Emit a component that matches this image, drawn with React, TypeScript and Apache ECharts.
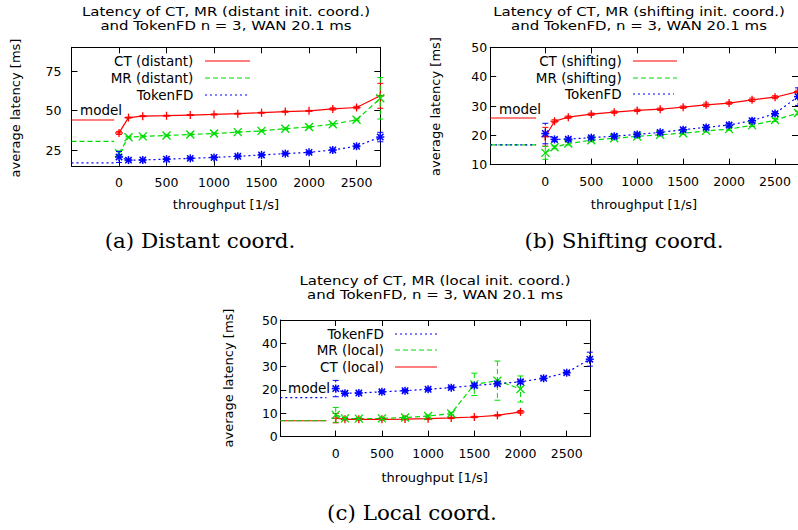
import React, { useEffect, useRef } from 'react';
import * as echarts from 'echarts';

// ---------- data ----------
const throughput = [0, 100, 250, 500, 750, 1000, 1250, 1500, 1750, 2000, 2250, 2500, 2750];
const throughputLocal = [0, 100, 250, 500, 750, 1000, 1250, 1500, 1750, 2000];

const tokenFD = [20.6, 18.6, 18.7, 19.2, 19.7, 20.3, 21.0, 21.9, 22.7, 23.5, 25.0, 27.4, 33.2];
const tokenFDErr = [3.5, 0.6, 0.5, 0.5, 0.5, 0.5, 0.5, 0.6, 0.6, 0.6, 0.6, 0.6, 3.0];

const ctDistant = [35.8, 45.5, 46.4, 46.7, 47.1, 47.5, 48.0, 48.6, 49.3, 49.8, 51.0, 51.9, 59.3];
const ctDistantErr = [1.0, 0.3, 0.3, 0.3, 0.3, 0.3, 0.3, 0.3, 0.4, 0.3, 0.7, 0.8, 7.9];
const mrDistant = [22.9, 33.1, 33.6, 34.2, 34.8, 35.4, 36.3, 37.1, 38.5, 39.6, 41.3, 44.1, 57.7];
const mrDistantErr = [1.5, 0.5, 0.4, 0.4, 0.4, 0.4, 0.4, 0.5, 0.5, 0.5, 0.5, 0.5, 13.1];

const ctShifting = [19.5, 24.8, 26.2, 27.2, 27.9, 28.5, 28.9, 29.6, 30.4, 31.0, 32.1, 33.0, 34.9];
const ctShiftingErr = [3.2, 0.5, 0.4, 0.4, 0.4, 0.4, 0.4, 0.4, 0.6, 0.4, 0.6, 0.5, 0.5];
const mrShifting = [14.0, 15.9, 17.2, 18.3, 19.0, 19.6, 20.2, 20.7, 21.5, 22.1, 23.4, 25.2, 27.6];
const mrShiftingErr = [2.2, 0.5, 0.5, 0.5, 0.4, 0.4, 0.4, 0.4, 0.4, 0.4, 0.4, 0.5, 0.6];

const ctLocal = [7.9, 7.4, 7.4, 7.4, 7.5, 7.7, 8.0, 8.4, 9.1, 10.6];
const ctLocalErr = [2.0, 0.3, 0.3, 0.3, 0.3, 0.3, 0.3, 0.3, 0.3, 0.6];
const mrLocal = [9.3, 7.8, 7.7, 7.8, 8.2, 8.8, 9.9, 22.4, 24.0, 20.4];
const mrLocalErr = [3.2, 0.4, 0.4, 0.4, 0.4, 0.4, 0.5, 4.8, 8.4, 5.6];

// model values: [CT, MR, TokenFD]
const modelDistant = [44.0, 30.5, 16.9];
const modelShifting = [25.9, 16.7, 16.7];
const modelLocal = [6.8, 6.8, 16.7];
const modelXDistant = [-500, -50];
const modelXShifting = [-600, -100];
const modelXLocal = [-600, -100];

const xTicks = [0, 500, 1000, 1500, 2000, 2500];
const yTicksA = [25, 50, 75];
const yTicksB = [10, 20, 30, 40, 50];
const yTicksC = [0, 10, 20, 30, 40, 50];

// ---------- style ----------
const RED = '#ff0000';
const GREEN = '#00dd00';
const BLUE = '#0000ff';
const SANS = 'DejaVu Sans';
const SERIF = 'DejaVu Serif';
const DASH_MR = [5, 3];
const DASH_TOK = [2, 3];

type Marker = 'plus' | 'cross' | 'star';

function lineSeries(gi: number, xs: number[], ys: number[], color: string, dash: any, width = 1.2) {
  return {
    type: 'line', xAxisIndex: gi, yAxisIndex: gi,
    data: xs.map((x, i) => [x, ys[i]]),
    showSymbol: false, symbol: 'none', silent: true, clip: false, z: 2,
    lineStyle: { color, width, type: dash },
    itemStyle: { color },
  };
}

function markerSeries(gi: number, xs: number[], ys: number[], errs: number[], color: string, dash: any, marker: Marker) {
  return {
    type: 'custom', xAxisIndex: gi, yAxisIndex: gi, clip: false, silent: true, z: 3,
    data: xs.map((x, i) => [x, ys[i], errs[i]]),
    encode: { x: 0, y: 1 },
    renderItem: (_p: any, api: any) => {
      const x = api.value(0), y = api.value(1), e = api.value(2);
      const c = api.coord([x, y]);
      const t = api.coord([x, y + e]);
      const b = api.coord([x, y - e]);
      const h = 4, cap = 3;
      const st = { stroke: color, lineWidth: 1, fill: null };
      const mst = { stroke: color, lineWidth: marker === 'star' ? 1.5 : 1.3, fill: null };
      const children: any[] = [
        { type: 'line', shape: { x1: c[0], y1: t[1], x2: c[0], y2: b[1] }, style: { ...st, lineDash: dash === 'solid' ? null : dash } },
        { type: 'line', shape: { x1: c[0] - cap, y1: t[1], x2: c[0] + cap, y2: t[1] }, style: st },
        { type: 'line', shape: { x1: c[0] - cap, y1: b[1], x2: c[0] + cap, y2: b[1] }, style: st },
      ];
      if (marker === 'plus' || marker === 'star') {
        children.push({ type: 'line', shape: { x1: c[0] - h, y1: c[1], x2: c[0] + h, y2: c[1] }, style: mst });
        children.push({ type: 'line', shape: { x1: c[0], y1: c[1] - h, x2: c[0], y2: c[1] + h }, style: mst });
      }
      if (marker === 'cross' || marker === 'star') {
        const d = marker === 'star' ? h * 0.8 : h;
        children.push({ type: 'line', shape: { x1: c[0] - d, y1: c[1] - d, x2: c[0] + d, y2: c[1] + d }, style: mst });
        children.push({ type: 'line', shape: { x1: c[0] - d, y1: c[1] + d, x2: c[0] + d, y2: c[1] - d }, style: mst });
      }
      return { type: 'group', children };
    },
  };
}

function modelSeries(gi: number, xs: number[], v: number, color: string, dash: any) {
  return lineSeries(gi, xs, [v, v], color, dash, 1.2);
}

const plainNum = (v: number) => String(v);

function xAxis(gi: number, min: number, max: number, pos: string, showLabel: boolean) {
  return {
    type: 'value', gridIndex: gi, min, max, position: pos,
    axisLine: { show: true, onZero: false, lineStyle: { color: '#000', width: 1 } },
    axisTick: { show: true, inside: true, length: 6, customValues: xTicks, lineStyle: { color: '#000' } },
    axisLabel: { show: showLabel, customValues: xTicks, formatter: plainNum, margin: 10, color: '#000', fontSize: 12.5, fontFamily: SANS },
    splitLine: { show: false },
  };
}

function yAxis(gi: number, min: number, max: number, ticks: number[], pos: string, showLabel: boolean, margin: number) {
  return {
    type: 'value', gridIndex: gi, min, max, position: pos,
    axisLine: { show: true, onZero: false, lineStyle: { color: '#000', width: 1 } },
    axisTick: { show: true, inside: true, length: 6, customValues: ticks, lineStyle: { color: '#000' } },
    axisLabel: { show: showLabel, customValues: ticks, formatter: plainNum, margin, color: '#000', fontSize: 12.5, fontFamily: SANS },
    splitLine: { show: false },
  };
}

function txt(x: number, y: number, text: string, opts: any = {}) {
  const { rotation, scaleX, ...style } = opts;
  return {
    type: 'text', x, y, rotation: rotation || 0, scaleX: scaleX || 1, silent: true,
    style: { text, fill: '#000', fontFamily: SANS, fontSize: 13.5, align: 'center', verticalAlign: 'middle', ...style },
  };
}

function legendRow(rightX: number, y: number, x1: number, x2: number, label: string, color: string, dash: any) {
  return [
    txt(rightX, y, label, { align: 'right', fontSize: 13.5 }),
    { type: 'line', silent: true, shape: { x1, y1: y, x2, y2: y }, style: { stroke: color, lineWidth: 1.2, lineDash: dash === 'solid' ? null : dash } },
  ];
}

const TITLE = { fontSize: 13, scaleX: 1.15 };

export default function App() {
  const ref = useRef<HTMLDivElement>(null);
  useEffect(() => {
    if (!ref.current) return;
    const chart = echarts.init(ref.current, undefined, { renderer: 'svg' });
    const option: any = {
      animation: false,
      backgroundColor: '#fff',
      grid: [
        { left: 71.5, top: 47.3, width: 308.8, height: 118.5 },
        { left: 490.2, top: 47.4, width: 308.3, height: 117.2 },
        { left: 280.3, top: 320, width: 309.5, height: 116.6 },
      ],
      xAxis: [
        xAxis(0, -500, 2750, 'bottom', true),
        xAxis(1, -600, 2750, 'bottom', true),
        xAxis(2, -600, 2750, 'bottom', true),
        xAxis(0, -500, 2750, 'top', false),
        xAxis(1, -600, 2750, 'top', false),
        xAxis(2, -600, 2750, 'top', false),
      ],
      yAxis: [
        yAxis(0, 15, 90, yTicksA, 'left', true, 10),
        yAxis(1, 10, 50, yTicksB, 'left', true, 3),
        yAxis(2, 0, 50, yTicksC, 'left', true, 2.5),
        yAxis(0, 15, 90, yTicksA, 'right', false, 3),
        yAxis(1, 10, 50, yTicksB, 'right', false, 3),
        yAxis(2, 0, 50, yTicksC, 'right', false, 3),
      ],
      series: [
        // (a) distant
        modelSeries(0, modelXDistant, modelDistant[0], RED, 'solid'),
        modelSeries(0, modelXDistant, modelDistant[1], GREEN, DASH_MR),
        modelSeries(0, modelXDistant, modelDistant[2], BLUE, DASH_TOK),
        lineSeries(0, throughput, ctDistant, RED, 'solid'),
        lineSeries(0, throughput, mrDistant, GREEN, DASH_MR),
        lineSeries(0, throughput, tokenFD, BLUE, DASH_TOK),
        markerSeries(0, throughput, ctDistant, ctDistantErr, RED, 'solid', 'plus'),
        markerSeries(0, throughput, mrDistant, mrDistantErr, GREEN, DASH_MR, 'cross'),
        markerSeries(0, throughput, tokenFD, tokenFDErr, BLUE, DASH_TOK, 'star'),
        // (b) shifting
        modelSeries(1, modelXShifting, modelShifting[0], RED, 'solid'),
        modelSeries(1, modelXShifting, modelShifting[1], GREEN, DASH_MR),
        modelSeries(1, modelXShifting, modelShifting[2], BLUE, DASH_TOK),
        lineSeries(1, throughput, ctShifting, RED, 'solid'),
        lineSeries(1, throughput, mrShifting, GREEN, DASH_MR),
        lineSeries(1, throughput, tokenFD, BLUE, DASH_TOK),
        markerSeries(1, throughput, ctShifting, ctShiftingErr, RED, 'solid', 'plus'),
        markerSeries(1, throughput, mrShifting, mrShiftingErr, GREEN, DASH_MR, 'cross'),
        markerSeries(1, throughput, tokenFD, tokenFDErr, BLUE, DASH_TOK, 'star'),
        // (c) local
        modelSeries(2, modelXLocal, modelLocal[0], RED, 'solid'),
        modelSeries(2, modelXLocal, modelLocal[1], GREEN, DASH_MR),
        modelSeries(2, modelXLocal, modelLocal[2], BLUE, DASH_TOK),
        lineSeries(2, throughputLocal, ctLocal, RED, 'solid'),
        lineSeries(2, throughputLocal, mrLocal, GREEN, DASH_MR),
        lineSeries(2, throughput, tokenFD, BLUE, DASH_TOK),
        markerSeries(2, throughputLocal, ctLocal, ctLocalErr, RED, 'solid', 'plus'),
        markerSeries(2, throughputLocal, mrLocal, mrLocalErr, GREEN, DASH_MR, 'cross'),
        markerSeries(2, throughput, tokenFD, tokenFDErr, BLUE, DASH_TOK, 'star'),
      ],
      graphic: [
        // titles
        txt(226, 11.6, 'Latency of CT, MR (distant init. coord.)', TITLE),
        txt(226, 25.1, 'and TokenFD n = 3, WAN 20.1 ms', TITLE),
        txt(639, 11.6, 'Latency of CT, MR (shifting init. coord.)', TITLE),
        txt(639, 25.1, 'and TokenFD, n = 3, WAN 20.1 ms', TITLE),
        txt(435, 280.7, 'Latency of CT, MR (local init. coord.)', TITLE),
        txt(435, 294.3, 'and TokenFD, n = 3, WAN 20.1 ms', TITLE),
        // legends
        ...legendRow(193.3, 61, 205, 250, 'CT (distant)', RED, 'solid'),
        ...legendRow(193.3, 78, 205, 250, 'MR (distant)', GREEN, DASH_MR),
        ...legendRow(193.3, 95, 205, 247, 'TokenFD', BLUE, DASH_TOK),
        ...legendRow(621.7, 61, 633, 677, 'CT (shifting)', RED, 'solid'),
        ...legendRow(621.7, 78, 633, 677, 'MR (shifting)', GREEN, DASH_MR),
        ...legendRow(621.7, 94, 633, 674, 'TokenFD', BLUE, DASH_TOK),
        ...legendRow(384, 334, 395, 437, 'TokenFD', BLUE, DASH_TOK),
        ...legendRow(384, 350, 395, 437, 'MR (local)', GREEN, DASH_MR),
        ...legendRow(384, 367, 395, 437, 'CT (local)', RED, 'solid'),
        // model labels
        txt(80, 110, 'model', { align: 'left', fontSize: 13.5 }),
        txt(499, 109.3, 'model', { align: 'left', fontSize: 13.5 }),
        txt(288, 388.3, 'model', { align: 'left', fontSize: 13.5 }),
        // axis names
        txt(15, 108, 'average latency [ms]', { rotation: Math.PI / 2, fontSize: 13 }),
        txt(435, 106.5, 'average latency [ms]', { rotation: Math.PI / 2, fontSize: 13 }),
        txt(228.3, 378, 'average latency [ms]', { rotation: Math.PI / 2, fontSize: 13 }),
        txt(226, 204, 'throughput [1/s]', { fontSize: 13 }),
        txt(644, 204, 'throughput [1/s]', { fontSize: 13 }),
        txt(434.7, 477.3, 'throughput [1/s]', { fontSize: 13 }),
        // captions
        txt(200, 241, '(a) Distant coord.', { fontFamily: SERIF, fontSize: 19.5, scaleX: 1.1 }),
        txt(624, 241, '(b) Shifting coord.', { fontFamily: SERIF, fontSize: 19.5, scaleX: 1.1 }),
        txt(412, 513, '(c) Local coord.', { fontFamily: SERIF, fontSize: 19.5, scaleX: 1.1 }),
      ],
    };
    chart.setOption(option);
    return () => chart.dispose();
  }, []);
  return <div ref={ref} style={{ position: 'absolute', left: 0, top: 0, width: 798, height: 530 }} />;
}
